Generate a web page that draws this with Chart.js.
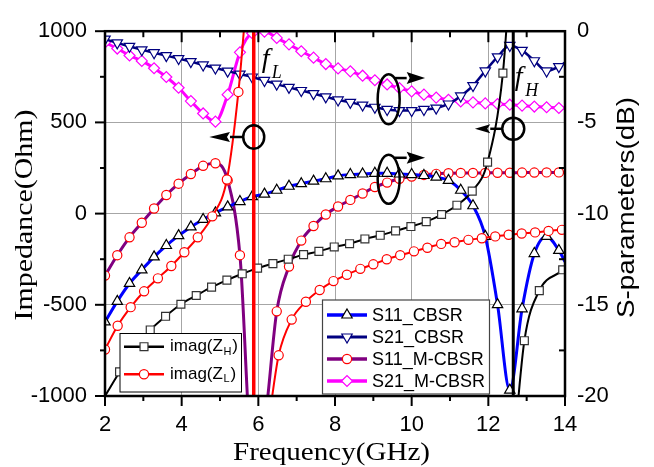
<!DOCTYPE html>
<html>
<head>
<meta charset="utf-8">
<style>
  html, body { margin: 0; padding: 0; background: #fff; }
  canvas { display: block; }
</style>
<script src="https://cdn.jsdelivr.net/npm/chart.js@4/dist/chart.umd.min.js"></script>
</head>
<body>
<canvas id="chart" width="654" height="467"></canvas>
<script>
// ---- S-parameter sweep (GHz / dB) ----
const sFreq = [2.00, 2.32, 2.64, 2.96, 3.28, 3.60, 3.92, 4.24, 4.56, 4.88, 5.20, 5.52, 5.84,
  6.16, 6.48, 6.80, 7.12, 7.44, 7.76, 8.08, 8.40, 8.72, 9.04, 9.36, 9.68, 10.00, 10.32,
  10.64, 10.96, 11.28, 11.60, 11.92, 12.24, 12.56, 12.88, 13.20, 13.52, 13.84, 14.00];

const s11Cbsr = [-15.94, -14.81, -13.83, -13.09, -12.37, -11.75, -11.21, -10.73, -10.32, -9.96,
  -9.63, -9.34, -9.07, -8.93, -8.72, -8.50, -8.36, -8.22, -8.09, -7.93, -7.86, -7.83, -7.79,
  -7.79, -7.83, -7.86, -7.91, -8.00, -8.18, -8.72, -9.57, -11.25, -14.99, -19.68, -15.22,
  -12.19, -11.25, -12.02, -12.64];

const s21Cbsr = [-0.43, -0.64, -0.83, -1.02, -1.18, -1.34, -1.50, -1.67, -1.85, -2.02, -2.19,
  -2.35, -2.51, -2.70, -2.90, -3.08, -3.25, -3.42, -3.60, -3.77, -3.90, -4.05, -4.17, -4.29,
  -4.35, -4.35, -4.29, -4.22, -3.99, -3.55, -2.98, -2.18, -1.41, -0.78, -1.05, -1.62, -2.18,
  -1.94, -1.72];

const s11Mcbsr = [-13.40, -12.28, -11.30, -10.50, -9.72, -8.98, -8.36, -7.83, -7.38, -7.24,
  -8.18, -12.28, -23.00, -21.50, -15.36, -12.90, -11.48, -10.68, -10.05, -9.61, -9.25, -8.90,
  -8.54, -8.30, -8.09, -7.97, -7.88, -7.82, -7.79, -7.77, -7.77, -7.77, -7.76, -7.76, -7.75,
  -7.75, -7.74, -7.74, -7.74];

const s21Mcbsr = [-0.62, -0.95, -1.33, -1.63, -2.03, -2.51, -3.10, -3.83, -4.51, -4.96, -3.48,
  -1.16, -0.11, -0.02, -0.37, -0.72, -1.10, -1.45, -1.80, -2.04, -2.20, -2.44, -2.69, -2.92,
  -3.12, -3.30, -3.48, -3.64, -3.76, -3.85, -3.90, -3.96, -3.99, -4.03, -4.08, -4.13, -4.17,
  -4.21, -4.22];

// ---- Imaginary part of the input impedances (GHz / Ohm) ----
const zhFreq = [2.38, 2.78, 3.18, 3.58, 3.98, 4.38, 4.78, 5.18, 5.58, 5.98, 6.38, 6.78, 7.18,
  7.58, 7.98, 8.38, 8.78, 9.18, 9.58, 9.98, 10.38, 10.78, 11.18, 11.58, 11.98, 12.38,
  12.94, 13.33, 13.94];
const zhVal = [-868, -740, -638, -563, -497, -449, -403, -365, -330, -299, -274, -250, -225,
  -207, -183, -165, -139, -119, -95, -71, -44, -5, 46, 123, 282, 770,
  -697, -422, -308];
// unmarked samples at the sweep ends and either side of the pole
const zhEdgeFreq = [2.00, 12.55, 12.72, 14.00];
const zhEdgeVal = [-1000, 1250, -1150, -292];

const zlFreq = [2.00, 2.33, 2.67, 3.02, 3.38, 3.73, 4.07, 4.42, 4.80, 5.18, 5.48,
  6.53, 6.87, 7.24, 7.60, 7.96, 8.31, 8.66, 9.00, 9.35, 9.70, 10.06, 10.41, 10.77, 11.12,
  11.48, 11.83, 12.18, 12.53, 12.87, 13.22, 13.57, 13.92];
const zlVal = [-745, -615, -513, -426, -355, -287, -212, -130, -15, 187, 667,
  -777, -581, -483, -419, -370, -335, -303, -278, -250, -228, -207, -187, -166, -157,
  -144, -135, -125, -116, -109, -103, -95, -89];
const zlEdgeFreq = [5.70, 6.32, 14.00];
const zlEdgeVal = [1200, -1060, -88];

// resonance frequencies (GHz)
const fL = 5.88;
const fH = 12.65;

// axis tick values
const freqTicks = [2, 4, 6, 8, 10, 12, 14];
const zTicks = [-1000, -500, 0, 500, 1000];
const sTicks = [-20, -15, -10, -5, 0];

// ---- helpers ----
function sweep(values) {
  // the last sample sits on the 14 GHz edge and carries no marker
  return sFreq.map((x, i) => ({ x, y: values[i], mark: i < sFreq.length - 1 }));
}
function branchCurve(freq, val, edgeFreq, edgeVal, pole) {
  const pts = freq.map((x, i) => ({ x, y: val[i], mark: true }))
    .concat(edgeFreq.map((x, i) => ({ x, y: edgeVal[i], mark: false })));
  pts.push({ x: pole, y: null, mark: false });
  return pts.sort((a, b) => a.x - b.x);
}
const markRadius = r => ctx => (ctx.raw && ctx.raw.mark ? r : 0);

const SANS = '"Liberation Sans", Arial, sans-serif';
const SERIF = '"Liberation Serif", "Times New Roman", serif';

const datasets = [
  {
    label: 'f_L', yAxisID: 'y', order: 0,
    data: [{ x: fL, y: -1000 }, { x: fL, y: 1000 }],
    borderColor: '#ff0000', borderWidth: 3.5, pointRadius: 0
  },
  {
    label: 'f_H', yAxisID: 'y', order: 1,
    data: [{ x: fH, y: -1000 }, { x: fH, y: 1000 }],
    borderColor: '#000000', borderWidth: 3, pointRadius: 0
  },
  {
    label: 'imag(Z_H)', yAxisID: 'y', order: 2,
    data: branchCurve(zhFreq, zhVal, zhEdgeFreq, zhEdgeVal, fH),
    borderColor: '#000000', borderWidth: 2,
    pointStyle: 'rect', pointRadius: markRadius(5.6),
    pointBorderColor: '#333333', pointBackgroundColor: '#ffffff', pointBorderWidth: 1.2
  },
  {
    label: 'imag(Z_L)', yAxisID: 'y', order: 3,
    data: branchCurve(zlFreq, zlVal, zlEdgeFreq, zlEdgeVal, fL),
    borderColor: '#ff0000', borderWidth: 2,
    pointStyle: 'circle', pointRadius: markRadius(4.6),
    pointBorderColor: '#ff0000', pointBackgroundColor: '#ffffff', pointBorderWidth: 1.2
  },
  {
    label: 'S11_CBSR', yAxisID: 'y1', order: 4,
    data: sweep(s11Cbsr),
    borderColor: '#0000ff', borderWidth: 3,
    pointStyle: 'triangle', pointRadius: markRadius(6),
    pointBorderColor: '#000000', pointBackgroundColor: '#ffffff', pointBorderWidth: 1.2
  },
  {
    label: 'S21_CBSR', yAxisID: 'y1', order: 5,
    data: sweep(s21Cbsr),
    borderColor: '#000080', borderWidth: 2.5,
    pointStyle: 'triangle', rotation: 180, pointRotation: 180, pointRadius: markRadius(6),
    pointBorderColor: '#000080', pointBackgroundColor: '#ffffff', pointBorderWidth: 1.2
  },
  {
    label: 'S11_M-CBSR', yAxisID: 'y1', order: 6,
    data: sweep(s11Mcbsr),
    borderColor: '#800080', borderWidth: 3,
    pointStyle: 'circle', pointRadius: markRadius(4.6),
    pointBorderColor: '#ff0000', pointBackgroundColor: '#ffffff', pointBorderWidth: 1.2
  },
  {
    label: 'S21_M-CBSR', yAxisID: 'y1', order: 7,
    data: sweep(s21Mcbsr),
    borderColor: '#ff00ff', borderWidth: 3,
    pointStyle: 'rectRot', pointRadius: markRadius(5.5),
    pointBorderColor: '#ff00ff', pointBackgroundColor: '#ffffff', pointBorderWidth: 1.2
  }
];
datasets.forEach(d => {
  d.cubicInterpolationMode = 'monotone';
  d.fill = false;
  d.spanGaps = false;
});

function drawMarker(ctx, ds, x, y) {
  const r = typeof ds.pointRadius === 'function' ? ds.pointRadius({ raw: { mark: true } }) : ds.pointRadius;
  ctx.save();
  ctx.fillStyle = ds.pointBackgroundColor;
  ctx.strokeStyle = ds.pointBorderColor;
  ctx.lineWidth = ds.pointBorderWidth;
  Chart.helpers.drawPoint(ctx, {
    pointStyle: ds.pointStyle, rotation: ds.pointRotation || 0,
    radius: r, borderWidth: ds.pointBorderWidth
  }, x, y);
  ctx.restore();
}

function legendSample(ctx, ds, x0, x1, y) {
  ctx.save();
  ctx.strokeStyle = ds.borderColor;
  ctx.lineWidth = ds.borderWidth + 0.5;
  ctx.beginPath(); ctx.moveTo(x0, y); ctx.lineTo(x1, y); ctx.stroke();
  ctx.restore();
  drawMarker(ctx, ds, (x0 + x1) / 2, y);
}

function stretchedText(ctx, text, x, y, angle, font, length) {
  ctx.save();
  ctx.font = font;
  const w = ctx.measureText(text).width;
  ctx.translate(x, y);
  ctx.rotate(angle);
  ctx.scale(length / w, 1);
  ctx.textAlign = 'center';
  ctx.textBaseline = 'alphabetic';
  ctx.fillStyle = '#000';
  ctx.fillText(text, 0, 0);
  ctx.restore();
}

function leftArrow(ctx, tipX, baseX, tailX, y, half) {
  ctx.beginPath(); ctx.moveTo(tailX, y); ctx.lineTo(baseX, y); ctx.stroke();
  ctx.beginPath(); ctx.moveTo(tipX, y); ctx.lineTo(baseX, y - half); ctx.lineTo(baseX - 3, y);
  ctx.lineTo(baseX, y + half); ctx.closePath(); ctx.fill();
}
function rightArrow(ctx, tailX, baseX, tipX, y, half) {
  ctx.beginPath(); ctx.moveTo(tailX, y); ctx.lineTo(baseX, y); ctx.stroke();
  ctx.beginPath(); ctx.moveTo(tipX, y); ctx.lineTo(baseX, y - half); ctx.lineTo(baseX + 3, y);
  ctx.lineTo(baseX, y + half); ctx.closePath(); ctx.fill();
}

const decorations = {
  id: 'decorations',
  afterDatasetsDraw(chart) {
    const { ctx, chartArea: a, scales } = chart;
    const xs = scales.x, yl = scales.y, yr = scales.y1;
    const byLabel = l => datasets.find(d => d.label === l);
    ctx.save();

    // plot frame
    ctx.strokeStyle = '#000';
    ctx.lineWidth = 2.5;
    ctx.strokeRect(a.left, a.top, a.right - a.left, a.bottom - a.top);

    // major and minor tick marks
    const majors = s => s.ticks.map(t => t.value);
    const minors = s => { const m = majors(s), r = []; for (let i = 0; i < m.length - 1; i++) r.push((m[i] + m[i + 1]) / 2); return r; };
    const seg = (x1, y1, x2, y2) => { ctx.beginPath(); ctx.moveTo(x1, y1); ctx.lineTo(x2, y2); ctx.stroke(); };
    ctx.lineWidth = 2;
    majors(xs).forEach(v => { const p = xs.getPixelForValue(v); seg(p, a.bottom, p, a.bottom + 10); seg(p, a.top, p, a.top + 11); });
    minors(xs).forEach(v => { const p = xs.getPixelForValue(v); seg(p, a.bottom, p, a.bottom + 5); seg(p, a.top, p, a.top + 6); });
    majors(yl).forEach(v => { const p = yl.getPixelForValue(v); seg(a.left - 10, p, a.left, p); });
    minors(yl).forEach(v => { const p = yl.getPixelForValue(v); seg(a.left - 5, p, a.left, p); });
    minors(yr).forEach(v => { const p = yr.getPixelForValue(v); seg(a.right - 6, p, a.right, p); });

    // f_L / f_H labels
    const pL = xs.getPixelForValue(fL), pH = xs.getPixelForValue(fH);
    ctx.fillStyle = '#000';
    ctx.textAlign = 'left';
    ctx.textBaseline = 'alphabetic';
    ctx.font = 'italic 28px ' + SERIF;
    ctx.fillText('f', pL + 8, a.top + 35.5);
    ctx.fillText('f', pH + 1.5, a.top + 54);
    ctx.font = 'italic 18px ' + SERIF;
    ctx.fillText('L', pL + 18, a.top + 46.3);
    ctx.fillText('H', pH + 12, a.top + 64.7);

    // loops with arrows pointing to the matching axis
    ctx.strokeStyle = '#000';
    ctx.fillStyle = '#000';
    ctx.lineWidth = 2.5;
    const ell = (cx, cy, rx, ry) => { ctx.beginPath(); ctx.ellipse(cx, cy, rx, ry, 0, 0, 2 * Math.PI); ctx.stroke(); };

    const c1y = yl.getPixelForValue(420);
    ell(pL, c1y, 10.5, 11.7);
    leftArrow(ctx, xs.getPixelForValue(4.72), xs.getPixelForValue(5.26), pL - 10.5, c1y, 5);

    const c2y = yl.getPixelForValue(465);
    ell(pH, c2y, 11, 11);
    leftArrow(ctx, xs.getPixelForValue(11.65), xs.getPixelForValue(12.05), pH - 11, c2y, 4.5);

    const c3x = xs.getPixelForValue(9.40);
    const c3y = yr.getPixelForValue(-3.73);
    ell(c3x, c3y, 11, 25);
    const a3y = yr.getPixelForValue(-2.57);
    rightArrow(ctx, c3x + 5.5, xs.getPixelForValue(9.87), xs.getPixelForValue(10.35), a3y, 6);

    const c4y = yr.getPixelForValue(-8.12);
    ell(c3x, c4y, 11, 24.5);
    const a4y = yr.getPixelForValue(-6.94);
    rightArrow(ctx, c3x + 5.5, xs.getPixelForValue(9.87), xs.getPixelForValue(10.35), a4y, 6);

    // legend: impedances
    ctx.lineWidth = 1;
    ctx.fillStyle = '#fff';
    ctx.fillRect(120, 333.5, 121.5, 58.5);
    ctx.strokeStyle = '#000';
    ctx.strokeRect(120, 333.5, 121.5, 58.5);
    const zRows = [['imag(Z_H)', 'H', 346.7], ['imag(Z_L)', 'L', 374.3]];
    zRows.forEach(([lab, sub, y]) => {
      legendSample(ctx, byLabel(lab), 124, 164, y);
      ctx.fillStyle = '#000';
      ctx.textBaseline = 'middle';
      ctx.textAlign = 'left';
      ctx.font = '17px ' + SANS;
      const head = 'imag(Z';
      ctx.fillText(head, 170, y);
      const w1 = ctx.measureText(head).width;
      ctx.font = '11px ' + SANS;
      ctx.fillText(sub, 170 + w1 + 0.5, y + 5);
      const w2 = ctx.measureText(sub).width;
      ctx.font = '17px ' + SANS;
      ctx.fillText(')', 170 + w1 + w2 + 1.5, y);
    });

    // legend: S-parameters
    ctx.fillStyle = '#fff';
    ctx.fillRect(322.5, 300, 167, 94);
    ctx.strokeStyle = '#444';
    ctx.lineWidth = 1.2;
    ctx.strokeRect(322.5, 300, 167, 94);
    const sRows = [['S11_CBSR', 315], ['S21_CBSR', 337], ['S11_M-CBSR', 359], ['S21_M-CBSR', 381]];
    sRows.forEach(([lab, y]) => {
      legendSample(ctx, byLabel(lab), 327, 367, y);
      ctx.fillStyle = '#000';
      ctx.textBaseline = 'middle';
      ctx.textAlign = 'left';
      ctx.font = '18px ' + SANS;
      ctx.fillText(lab, 372, y + 1);
    });

    // axis titles
    stretchedText(ctx, 'Impedance(Ohm)', 32, 215, -Math.PI / 2, '26px ' + SERIF, 211);
    stretchedText(ctx, 'Frequency(GHz)', 331.5, 460, 0, '25px ' + SERIF, 197);
    stretchedText(ctx, 'S-parameters(dB)', 634, 207.5, -Math.PI / 2, '23px ' + SANS, 221);

    ctx.restore();
  }
};

const tickFont = { family: SANS, size: 22 };

new Chart(document.getElementById('chart'), {
  type: 'line',
  data: { datasets },
  plugins: [decorations],
  options: {
    responsive: false,
    animation: false,
    devicePixelRatio: 1,
    events: [],
    layout: { padding: { top: 22, left: 0, right: 0, bottom: 0 } },
    plugins: { legend: { display: false }, tooltip: { enabled: false } },
    scales: {
      x: {
        type: 'linear', position: 'bottom', min: 2, max: 14,
        afterBuildTicks: s => { s.ticks = freqTicks.map(v => ({ value: v })); },
        ticks: { autoSkip: false, maxRotation: 0, minRotation: 0, padding: 16, color: '#000', font: tickFont, callback: v => String(v) },
        grid: { color: '#a6a6a6', lineWidth: 1, drawTicks: false },
        border: { display: false },
        afterFit: s => { s.height = 71; }
      },
      y: {
        type: 'linear', position: 'left', min: -1000, max: 1000,
        afterBuildTicks: s => { s.ticks = zTicks.map(v => ({ value: v })); },
        ticks: { autoSkip: false, padding: 18, color: '#000', font: tickFont, callback: v => String(v) },
        grid: { color: '#a6a6a6', lineWidth: 1, drawTicks: false },
        border: { display: false },
        afterFit: s => { s.width = 105; }
      },
      y1: {
        type: 'linear', position: 'right', min: -20, max: 0,
        afterBuildTicks: s => { s.ticks = sTicks.map(v => ({ value: v })); },
        ticks: { autoSkip: false, padding: 12, color: '#000', font: tickFont, callback: v => String(v) },
        grid: { display: false, drawTicks: false },
        border: { display: false },
        afterFit: s => { s.width = 89; }
      }
    }
  }
});
</script>
</body>
</html>
